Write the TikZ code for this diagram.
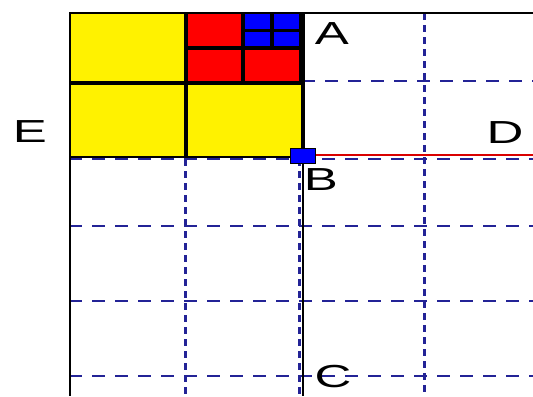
\documentclass[tikz,border=0pt]{standalone}
\usepackage{fontspec}
\setmainfont{Liberation Sans}
\usetikzlibrary{positioning}
\definecolor{gridblue}{RGB}{35,35,150}

\begin{document}
\begin{tikzpicture}[
    x=1bp, y=-1bp,
    hgrid/.style={gridblue, line width=2.2bp, dash pattern=on 13bp off 10bp},
    vgrid/.style={gridblue, line width=3bp, dash pattern=on 7bp off 5bp},
    frame/.style={black, line width=2.2bp},
    sep/.style={black, line width=3.4bp},
    lbl/.style={inner sep=0pt, font=\fontsize{32}{32}\selectfont}
]
\useasboundingbox (0,0) rectangle (533,396);

\draw[hgrid] (302,81) -- (533,81);
\foreach \y in {159,226,301,376}
    \draw[hgrid] (69,\y) -- (533,\y);
\draw[vgrid] (424,13) -- (424,396);
\draw[vgrid] (185,159) -- (185,396);
\draw[vgrid] (299,159) -- (299,396);

\fill[yellow] (70,13) rectangle (186,157);
\fill[yellow] (186,83) rectangle (302,157);
\fill[red] (186,13) rectangle (302,83);
\fill[blue] (243,13) rectangle (302,48);

\draw[sep] (186,13) -- (186,157);
\draw[sep] (70,83) -- (302,83);
\draw[sep] (243,13) -- (243,83);
\draw[sep] (186,48) -- (302,48);
\draw[sep] (272,13) -- (272,48);
\draw[sep] (243,30.5) -- (302,30.5);
\draw[sep] (301,13) -- (301,83);
\draw[black, line width=1.8bp] (70,157) -- (302,157);

\draw[frame] (69,13) -- (533,13);
\draw[frame] (70,13) -- (70,396);
\draw[frame] (303,13) -- (303,396);
\draw[black, line width=3.2bp] (303,13) -- (303,157);

\draw[red!85!black, line width=1.2bp] (303,155) -- (533,155);

\node[draw=black, fill=blue, line width=0.8bp, minimum width=25bp, minimum height=15bp, inner sep=0pt] (mark) at (303,156) {};

\node[lbl] (labA) at (332,34) {\scalebox{1.6}[1]{A}};
\node[lbl] (labB) at (321,180) {\scalebox{1.6}[1]{B}};
\node[lbl] (labC) at (333,377) {\scalebox{1.6}[1]{C}};
\node[lbl] (labD) at (505,133) {\scalebox{1.6}[1]{D}};
\node[lbl] (labE) at (30,132) {\scalebox{1.6}[1]{E}};
\end{tikzpicture}
\end{document}
